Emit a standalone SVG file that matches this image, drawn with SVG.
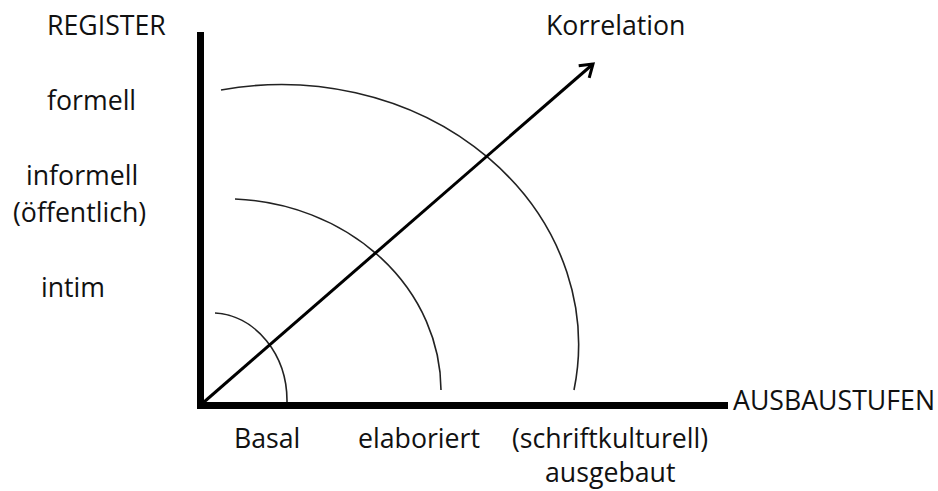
<svg xmlns="http://www.w3.org/2000/svg" width="938" height="491" viewBox="0 0 938 491">
<defs>
<style>
text{font-family:"Open Sans","Noto Sans","Liberation Sans",sans-serif;font-size:26.7px;fill:#111}
.axis{stroke:#000;stroke-width:7;fill:none}
.arc{stroke:#222;stroke-width:1.6;fill:none}
.arrow{stroke:#000;stroke-width:3;fill:none}
</style>
<marker id="head" markerUnits="userSpaceOnUse" markerWidth="30" markerHeight="30" refX="15" refY="10" orient="auto" viewBox="0 0 30 20">
<path d="M3,2 L15,10 L3,18" fill="none" stroke="#000" stroke-width="3" stroke-linejoin="miter"/>
</marker>
</defs>
<rect width="938" height="491" fill="#fff"/>
<g id="connectors">
<line class="axis" x1="200.5" y1="32" x2="200.5" y2="409"/>
<line class="axis" x1="197" y1="405.5" x2="728" y2="405.5"/>
<path class="arc" d="M215,313 A76,88 0 0 1 287,402"/>
<path class="arc" d="M235,199 A216,192 0 0 1 441,390"/>
<path class="arc" d="M221,90 A297,260 0 0 1 574,390"/>
<line class="arrow" x1="204" y1="402" x2="593" y2="64" marker-end="url(#head)"/>
</g>
<g id="label-register"><text x="47" y="35">REGISTER</text></g>
<g id="label-formell"><text x="47" y="110">formell</text></g>
<g id="label-informell"><text x="26" y="185">informell</text><text x="13" y="222">(öffentlich)</text></g>
<g id="label-intim"><text x="41" y="297">intim</text></g>
<g id="label-korrelation"><text x="546" y="35">Korrelation</text></g>
<g id="label-ausbaustufen"><text x="733" y="410">AUSBAUSTUFEN</text></g>
<g id="label-basal"><text x="234" y="448">Basal</text></g>
<g id="label-elaboriert"><text x="358" y="448">elaboriert</text></g>
<g id="label-ausgebaut"><text x="512" y="448">(schriftkulturell)</text><text x="545" y="482">ausgebaut</text></g>
</svg>
